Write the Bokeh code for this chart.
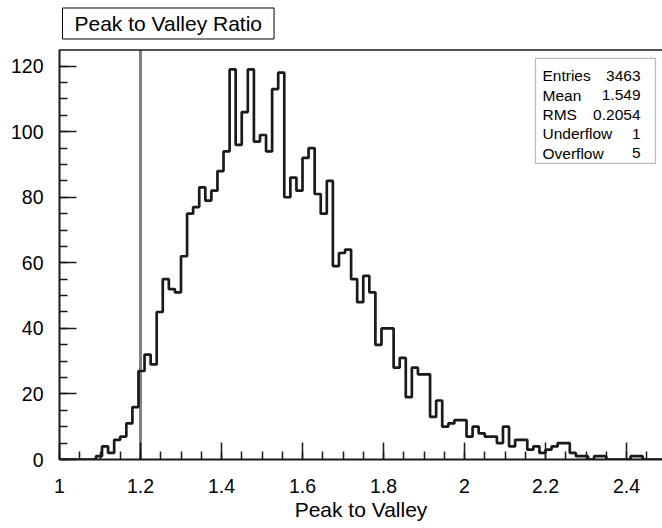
import numpy as np
from bokeh.plotting import figure
from bokeh.models import (Range1d, Span, BoxAnnotation, Label, FixedTicker)
from bokeh.embed import file_html
from bokeh.resources import INLINE

# Histogram: 100 bins over [1, 2.5]
x_min, x_max, n_bins = 1.0, 2.5, 100
counts = [
    0, 0, 0, 0, 0, 0, 1, 4, 2, 6,
    7, 11, 16, 27, 32, 29, 45, 55, 52, 51,
    62, 75, 77, 83, 79, 82, 88, 94, 119, 96,
    106, 119, 97, 99, 94, 113, 118, 80, 86, 82,
    92, 95, 81, 75, 85, 59, 63, 64, 55, 48,
    56, 51, 35, 40, 40, 28, 31, 19, 28, 26,
    26, 13, 18, 10, 11, 12, 12, 7, 10, 8,
    7, 7, 5, 10, 4, 6, 6, 3, 4, 2,
    3, 4, 5, 5, 2, 1, 1, 0, 1, 1,
    0, 0, 0, 0, 1, 1, 0, 0, 0, 0,
]
cut_value = 1.2
title_text = "Peak to Valley Ratio"

stat_names = ["Entries", "Mean", "RMS", "Underflow", "Overflow"]
stat_values = ["3463", "1.549", "0.2054", "1", "5"]

x_ticks = [1.0, 1.2, 1.4, 1.6, 1.8, 2.0, 2.2, 2.4]
x_tick_labels = ["1", "1.2", "1.4", "1.6", "1.8", "2", "2.2", "2.4"]
y_ticks = [0, 20, 40, 60, 80, 100, 120]
y_tick_labels = ["0", "20", "40", "60", "80", "100", "120"]

FONT = "Liberation Sans"
INK = "#1a1a1a"

edges = np.linspace(x_min, x_max, n_bins + 1)
step_y = list(counts) + [counts[-1]]
y_top = max(counts) * 1.05          # histogram frame top (ROOT-style 5% headroom)

# pixel -> data helpers for the annotation boxes (frame spans the full canvas height
# above the x axis, so the title pad can sit inside it)
PX_PER_X, PX_PER_Y, X0_PX, Y0_PX = 405.0, 3.28, 59, 459.3

def xd(px):
    return 1.0 + (px - X0_PX) / PX_PER_X

def yd(py):
    return (Y0_PX - py) / PX_PER_Y

p = figure(width=662, height=528, title=None,
           x_range=Range1d(1.0, xd(662)), y_range=Range1d(0, yd(0)),
           output_backend="svg", toolbar_location=None,
           min_border_left=59, min_border_right=0,
           min_border_top=0, min_border_bottom=69)
p.outline_line_color = None
p.xgrid.visible = False
p.ygrid.visible = False
p.background_fill_color = "white"
p.border_fill_color = "white"

# top edge of the histogram frame
p.add_layout(Span(location=y_top, dimension="width", line_color=INK, line_width=1.5))

# cut marker
p.segment(x0=[cut_value], y0=[0], x1=[cut_value], y1=[y_top],
          line_color="#808080", line_width=3)

# histogram outline
p.step(x=edges, y=step_y, mode="after", line_color=INK, line_width=2.7)

# axes
x_minor = [round(v, 3) for v in np.arange(1.0, 2.5001, 0.05)]
y_minor = list(range(0, 125, 5))

xa = p.xaxis[0]
xa.ticker = FixedTicker(ticks=x_ticks, minor_ticks=x_minor)
xa.major_label_overrides = dict(zip(x_ticks, x_tick_labels))
xa.axis_label = "Peak to Valley"

ya = p.yaxis[0]
ya.ticker = FixedTicker(ticks=y_ticks, minor_ticks=y_minor)
ya.major_label_overrides = dict(zip([float(t) for t in y_ticks], y_tick_labels))
ya.bounds = (0, y_top)

for ax in (xa, ya):
    ax.axis_line_color = INK
    ax.axis_line_width = 2
    ax.major_tick_line_color = INK
    ax.minor_tick_line_color = INK
    ax.major_tick_line_width = 1.5
    ax.minor_tick_line_width = 1.5
    ax.major_tick_in = 17
    ax.major_tick_out = 0
    ax.minor_tick_in = 8
    ax.minor_tick_out = 0
    ax.major_label_text_font = FONT
    ax.major_label_text_font_size = "19.5px"
    ax.major_label_text_color = "black"
    ax.major_label_standoff = 16

xa.major_label_standoff = 19
xa.axis_label_text_font = FONT
xa.axis_label_text_font_size = "21px"
xa.axis_label_text_font_style = "normal"
xa.axis_label_text_color = "black"
xa.axis_label_standoff = 2

# boxed title
p.add_layout(Label(x=xd(62), y=yd(23), text=title_text, text_font=FONT,
                   text_font_size="21px", text_baseline="middle", text_align="left",
                   text_color="black", border_line_color="black", border_line_width=1,
                   background_fill_color="white",
                   padding=dict(left=12, right=12, top=4, bottom=4)))

# statistics box
p.add_layout(BoxAnnotation(left=xd(535), right=xd(655), top=yd(58), bottom=yd(163),
                           fill_color="white", fill_alpha=1.0,
                           line_color=INK, line_width=1.2, level="overlay"))
for i, (name, val) in enumerate(zip(stat_names, stat_values)):
    yy = yd(75.5 + 19.3 * i)
    p.add_layout(Label(x=xd(542), y=yy, text=name, text_font=FONT,
                       text_font_size="15.5px", text_baseline="middle",
                       text_align="left", text_color="black", level="overlay"))
    p.add_layout(Label(x=xd(640), y=yy, text=val, text_font=FONT,
                       text_font_size="15.5px", text_baseline="middle",
                       text_align="right", text_color="black", level="overlay"))

open("out.html", "w").write(file_html(p, INLINE))
